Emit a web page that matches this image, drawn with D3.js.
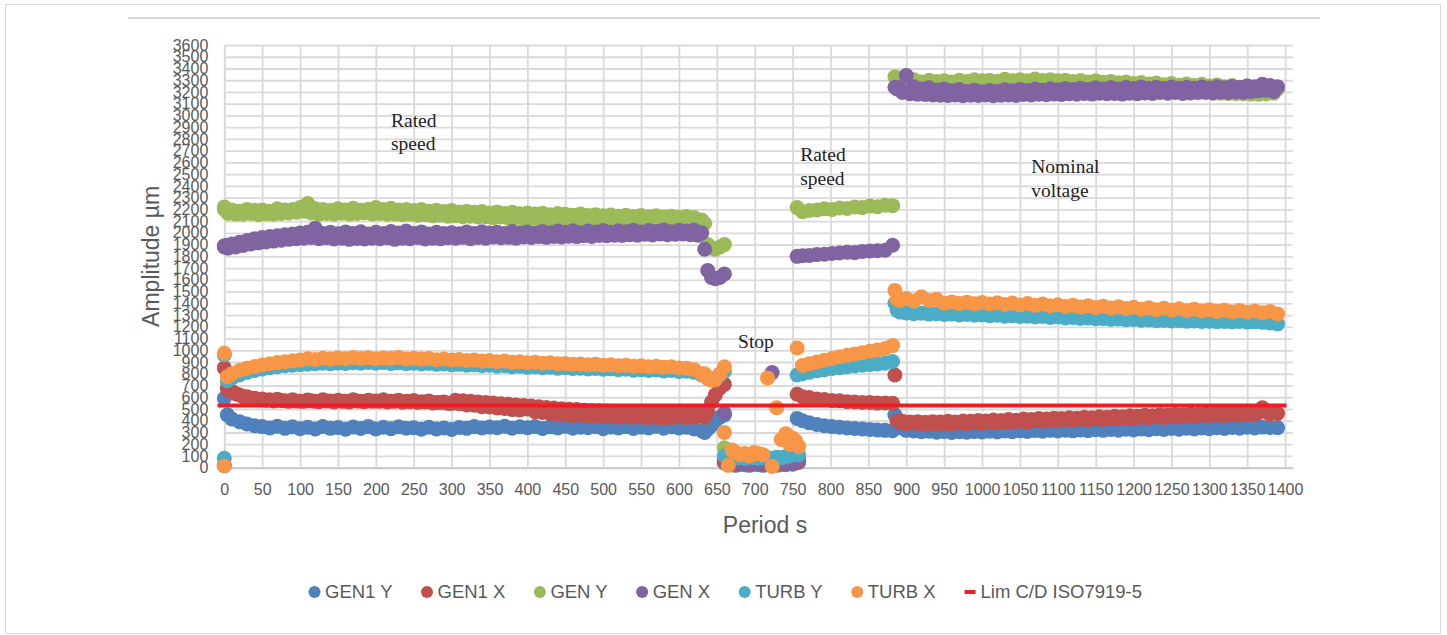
<!DOCTYPE html>
<html>
<head>
<meta charset="utf-8">
<script src="https://cdn.jsdelivr.net/npm/d3@7"></script>
<style>
  body { margin: 0; background: #fff; }
  svg { display: block; }
</style>
</head>
<body>
<div id="container"></div>
<script>
// ---- data ----
const seriesNames = ["GEN1 Y", "GEN1 X", "GEN Y", "GEN X", "TURB Y", "TURB X"];
const seriesColors = ["#4F81BD", "#C0504D", "#9BBB59", "#8064A2", "#4BACC6", "#F79646"];

// time stamps (s) of each phase
const tRun1 = [0, 0, 4, 10, 20, 30, 40, 50, 60, 70, 80, 90, 100, 110, 120, 130, 140, 150, 160, 170,
  180, 190, 200, 210, 220, 230, 240, 250, 260, 270, 280, 290, 300, 310, 320, 330, 340, 350, 360, 370,
  380, 390, 400, 410, 420, 430, 440, 450, 460, 470, 480, 490, 500, 510, 520, 530, 540, 550, 560, 570,
  580, 590, 600, 610, 620, 630];
const tCoast = [634, 638, 643, 648, 654, 660];
const tStop = [660, 665, 670, 675, 681, 687, 693, 699, 705, 711, 717, 723, 729, 735, 741, 746, 750, 754, 758];
const tRun2 = [756, 763, 772, 782, 792, 802, 812, 822, 832, 842, 852, 862, 872, 882];
const tNominal = [885, 888, 892, 900, 910, 920, 930, 940, 950, 960, 970, 980, 990, 1000, 1010, 1020,
  1030, 1040, 1050, 1060, 1070, 1080, 1090, 1100, 1110, 1120, 1130, 1140, 1150, 1160, 1170, 1180,
  1190, 1200, 1210, 1220, 1230, 1240, 1250, 1260, 1270, 1280, 1290, 1300, 1310, 1320, 1330, 1340,
  1350, 1360, 1370, 1380, 1390];
const period = [].concat(tRun1, tCoast, tStop, tRun2, tNominal);

// amplitudes (µm), same order as period
const gen1Y = [
  590, 20, 450,
  415, 392, 372, 358, 350, 338, 352, 335, 348, 332,
  345, 330, 350, 335, 342, 328, 346, 334, 350, 330,
  344, 332, 348, 336, 340, 328, 345, 330, 338, 326,
  342, 335, 350, 338, 346, 340, 352, 336, 348, 340,
  350, 334, 348, 338, 352, 336, 345, 340, 350, 332,
  346, 338, 350, 334, 346, 338, 352, 336, 348, 338,
  344, 330, 315,
  300, 330, 360, 400, 430, 450,
  40, 30, 25, 20, 30, 25, 20, 30, 25, 20, 30, 25, 20, 30, 25, 35, 30, 40, 45,
  420, 400, 382, 368, 358, 350, 345, 338, 334, 330, 326, 322, 318, 315,
  450, 380, 340, 318, 312, 306, 310, 302, 308, 300,
  306, 302, 308, 304, 310, 305, 312, 306, 314, 308,
  316, 310, 318, 312, 320, 314, 322, 316, 324, 318,
  326, 320, 328, 322, 330, 324, 332, 326, 334, 328,
  336, 330, 338, 332, 340, 334, 342, 336, 344, 338,
  346, 342, 340
];
const gen1X = [
  850, 20, 680,
  650, 620, 605, 592, 585, 578, 583, 570, 578, 566,
  576, 565, 578, 568, 575, 565, 578, 566, 574, 568,
  578, 566, 574, 565, 572, 562, 568, 555, 560, 548,
  545, 535, 532, 520, 518, 508, 505, 495, 492, 500,
  478, 470, 462, 455, 452, 445, 448, 440, 442, 435,
  438, 430, 434, 428, 432, 425, 430, 422, 428, 432,
  425, 430, 440,
  430, 480, 560, 620, 680, 710,
  60, 45, 40, 35, 40, 45, 35, 40, 45, 35, 40, 45, 40, 35, 45, 40, 50, 45, 55,
  625, 605, 598, 585, 580, 572, 570, 562, 560, 555, 556, 550, 552, 548,
  790, 400, 385, 372, 378, 370, 375, 368, 376, 372,
  380, 375, 384, 378, 388, 382, 392, 386, 396, 390,
  400, 395, 405, 400, 410, 404, 414, 408, 418, 412,
  422, 416, 426, 420, 430, 424, 434, 428, 438, 432,
  442, 436, 446, 440, 450, 444, 454, 448, 458, 452,
  510, 458, 462
];
const genY = [
  2200, 2220, 2175,
  2195, 2185, 2200, 2192, 2195, 2185, 2205, 2195, 2200, 2215,
  2250, 2205, 2200, 2190, 2205, 2195, 2210, 2192, 2202, 2215,
  2200, 2210, 2195, 2200, 2190, 2198, 2185, 2192, 2182, 2190,
  2178, 2185, 2175, 2182, 2170, 2178, 2165, 2175, 2162, 2170,
  2160, 2168, 2155, 2165, 2158, 2150, 2160, 2148, 2155, 2145,
  2152, 2142, 2150, 2140, 2148, 2138, 2145, 2135, 2142, 2132,
  2140, 2130, 2110,
  2080, 1900, 1870, 1860, 1880, 1900,
  170, 100, 70, 60, 55, 60, 55, 50, 60, 55, 60, 50, 55, 60, 55, 65, 60, 70, 80,
  2215, 2180, 2190, 2195, 2205, 2200, 2212, 2208, 2220, 2215, 2228, 2222, 2235, 2232,
  3330, 3315, 3300, 3290, 3305, 3285, 3300, 3290, 3295, 3285,
  3300, 3290, 3305, 3295, 3300, 3292, 3308, 3296, 3305, 3295,
  3310, 3298, 3305, 3295, 3300, 3290, 3298, 3285, 3295, 3282,
  3290, 3278, 3285, 3272, 3280, 3268, 3276, 3262, 3272, 3258,
  3268, 3255, 3265, 3250, 3260, 3245, 3255, 3240, 3250, 3235,
  3240, 3230, 3225
];
const genX = [
  1880, 1890, 1895,
  1905, 1920, 1935, 1950, 1960, 1968, 1975, 1985, 1990, 1998,
  2005, 2040, 1995, 2005, 1992, 2008, 1995, 2010, 1990, 2005,
  1995, 2012, 1998, 2015, 1995, 2008, 1990, 2005, 1995, 2002,
  1992, 2008, 1995, 2010, 1998, 2005, 1995, 2012, 2000, 2008,
  1998, 2012, 2002, 2015, 2005, 2018, 2000, 2015, 2008, 2020,
  2005, 2018, 2010, 2022, 2008, 2020, 2012, 2025, 2010, 2022,
  2015, 2025, 2000,
  1860, 1680, 1620, 1610, 1620, 1650,
  466, 60, 50, 45, 40, 50, 45, 40, 50, 45, 40, 810, 45, 50, 45, 55, 50, 60, 70,
  1800, 1805, 1808, 1815, 1818, 1825, 1828, 1835, 1832, 1842, 1845, 1848, 1852, 1895,
  3240, 3225, 3235, 3340, 3245, 3225, 3235, 3215, 3225, 3210,
  3220, 3205, 3215, 3202, 3212, 3205, 3218, 3210, 3222, 3212,
  3225, 3215, 3228, 3218, 3230, 3220, 3232, 3222, 3235, 3225,
  3238, 3228, 3240, 3230, 3242, 3232, 3240, 3230, 3242, 3232,
  3240, 3232, 3242, 3234, 3244, 3236, 3246, 3238, 3250, 3245,
  3265, 3255, 3245
];
const turbY = [
  960, 80, 740,
  765, 790, 812, 828, 840, 852, 860, 868, 872, 878,
  882, 885, 890, 886, 892, 888, 894, 890, 896, 890,
  895, 888, 893, 886, 890, 884, 888, 880, 884, 876,
  880, 872, 876, 868, 872, 864, 868, 860, 864, 856,
  860, 852, 856, 848, 852, 845, 848, 840, 845, 838,
  842, 835, 838, 830, 835, 828, 832, 824, 828, 820,
  822, 812, 790,
  790, 760, 750, 760, 790, 820,
  100, 90, 85, 80, 85, 80, 90, 85, 80, 90, 85, 80, 90, 85, 95, 100, 110, 120, 110,
  790, 800, 812, 825, 835, 845, 852, 860, 866, 872, 878, 884, 890, 905,
  1400, 1340, 1325, 1318, 1312, 1315, 1308, 1312, 1305, 1308,
  1300, 1305, 1298, 1302, 1295, 1298, 1290, 1294, 1288, 1290,
  1284, 1288, 1280, 1284, 1276, 1280, 1272, 1275, 1268, 1270,
  1264, 1266, 1260, 1262, 1256, 1258, 1252, 1254, 1250, 1252,
  1248, 1250, 1245, 1248, 1244, 1246, 1242, 1245, 1240, 1242,
  1238, 1232, 1225
];
const turbX = [
  975, 15, 775,
  800, 828, 848, 862, 875, 885, 895, 902, 910, 918,
  928, 922, 932, 925, 935, 928, 938, 930, 936, 928,
  935, 930, 938, 926, 932, 925, 930, 920, 926, 918,
  922, 914, 918, 908, 912, 902, 908, 898, 902, 894,
  898, 890, 894, 885, 888, 880, 884, 876, 880, 872,
  876, 868, 872, 864, 868, 860, 864, 856, 860, 850,
  848, 835, 800,
  800, 760, 745, 750, 800, 860,
  300, 20, 150, 130, 110, 120, 100, 130, 120, 110, 765, 10, 510, 240, 290, 200, 250, 230, 180,
  1020, 870, 885, 900, 915, 930, 945, 958, 968, 980, 992, 1002, 1015, 1040,
  1510, 1435, 1425, 1440, 1420, 1455, 1425, 1435, 1400, 1412,
  1398, 1410, 1396, 1408, 1394, 1405, 1390, 1402, 1386, 1398,
  1382, 1394, 1378, 1388, 1372, 1384, 1368, 1380, 1364, 1376,
  1360, 1370, 1355, 1366, 1350, 1362, 1346, 1358, 1342, 1354,
  1338, 1350, 1334, 1346, 1330, 1342, 1326, 1338, 1324, 1335,
  1320, 1330, 1310
];
const seriesValues = [gen1Y, gen1X, genY, genX, turbY, turbX];

// second reading row where the bands are wide (run 1 and nominal voltage)
const tMid = [5, 15, 25, 35, 45, 55, 65, 75, 85, 95, 105, 115, 125, 135, 145, 155, 165, 175, 185, 195,
  205, 215, 225, 235, 245, 255, 265, 275, 285, 295, 305, 315, 325, 335, 345, 355, 365, 375, 385, 395,
  405, 415, 425, 435, 445, 455, 465, 475, 485, 495, 505, 515, 525, 535, 545, 555, 565, 575, 585, 595,
  605, 615, 625,
  895, 905, 915, 925, 935, 945, 955, 965, 975, 985, 995, 1005, 1015, 1025, 1035, 1045, 1055, 1065,
  1075, 1085, 1095, 1105, 1115, 1125, 1135, 1145, 1155, 1165, 1175, 1185, 1195, 1205, 1215, 1225,
  1235, 1245, 1255, 1265, 1275, 1285, 1295, 1305, 1315, 1325, 1335, 1345, 1355, 1365, 1375, 1385];
const gen1XMid = [
  660, 630, 605, 590, 580, 575, 568, 572, 565, 568,
  565, 570, 562, 568, 560, 566, 560, 568, 562, 565,
  565, 560, 566, 558, 562, 555, 560, 552, 555, 548,
  575, 570, 565, 560, 555, 550, 545, 540, 535, 530,
  525, 520, 512, 508, 502, 498, 495, 490, 488, 485,
  482, 480, 478, 476, 475, 472, 474, 470, 472, 470,
  468, 472, 475,
  395, 390, 392, 388, 392, 390, 395, 390, 398, 395,
  402, 398, 406, 402, 410, 405, 414, 410, 418, 414,
  422, 418, 426, 422, 430, 426, 434, 430, 438, 434,
  442, 438, 446, 442, 450, 446, 454, 450, 458, 454,
  462, 458, 466, 462, 470, 466, 474, 470, 478, 480
];
const genYMid = [
  2165, 2160, 2158, 2165, 2155, 2162, 2158, 2165, 2170, 2175,
  2185, 2170, 2160, 2165, 2158, 2168, 2160, 2165, 2170, 2162,
  2165, 2158, 2162, 2155, 2160, 2150, 2155, 2145, 2150, 2142,
  2145, 2138, 2142, 2135, 2138, 2130, 2135, 2125, 2130, 2122,
  2125, 2118, 2122, 2115, 2118, 2110, 2115, 2108, 2112, 2105,
  2108, 2100, 2105, 2098, 2102, 2095, 2100, 2092, 2098, 2090,
  2095, 2088, 2080,
  3265, 3255, 3250, 3258, 3248, 3255, 3250, 3258, 3252, 3260,
  3255, 3262, 3258, 3265, 3260, 3268, 3262, 3265, 3260, 3262,
  3258, 3255, 3250, 3248, 3245, 3240, 3238, 3235, 3230, 3228,
  3225, 3222, 3218, 3215, 3212, 3210, 3208, 3205, 3200, 3198,
  3195, 3192, 3190, 3188, 3185, 3185, 3182, 3180, 3185, 3190
];
const genXMid = [
  1870, 1880, 1892, 1905, 1915, 1922, 1930, 1938, 1945, 1950,
  1955, 1960, 1950, 1958, 1948, 1955, 1945, 1952, 1948, 1955,
  1950, 1958, 1945, 1955, 1950, 1960, 1948, 1955, 1950, 1958,
  1955, 1962, 1950, 1960, 1955, 1965, 1958, 1962, 1955, 1965,
  1960, 1968, 1962, 1970, 1965, 1972, 1968, 1975, 1970, 1978,
  1975, 1980, 1978, 1985, 1980, 1988, 1982, 1990, 1985, 1988,
  1990, 1985, 1980,
  3195, 3185, 3180, 3178, 3175, 3172, 3170, 3175, 3168, 3172,
  3170, 3175, 3168, 3172, 3175, 3170, 3178, 3175, 3180, 3176,
  3182, 3178, 3185, 3180, 3188, 3182, 3190, 3185, 3188, 3182,
  3190, 3185, 3192, 3188, 3195, 3190, 3195, 3188, 3192, 3195,
  3198, 3192, 3200, 3195, 3202, 3198, 3205, 3210, 3215, 3205
];
const midValues = [null, gen1XMid, genYMid, genXMid, null, null];

// limit line C/D ISO7919-5
const limName = "Lim C/D ISO7919-5";
const limT = [-9, 1402];
const limV = [530, 530];

const xTicks = [0, 50, 100, 150, 200, 250, 300, 350, 400, 450, 500, 550, 600, 650, 700, 750, 800,
  850, 900, 950, 1000, 1050, 1100, 1150, 1200, 1250, 1300, 1350, 1400];
const yTicks = [0, 100, 200, 300, 400, 500, 600, 700, 800, 900, 1000, 1100, 1200, 1300, 1400, 1500,
  1600, 1700, 1800, 1900, 2000, 2100, 2200, 2300, 2400, 2500, 2600, 2700, 2800, 2900, 3000, 3100,
  3200, 3300, 3400, 3500, 3600];

const notes = [
  { lines: ["Rated", "speed"], t: 220, v: 2902 },
  { lines: ["Stop"], t: 678, v: 1019 },
  { lines: ["Rated", "speed"], t: 760, v: 2612 },
  { lines: ["Nominal", "voltage"], t: 1065, v: 2508 }
];

// ---- layout ----
const width = 1447, height = 635;
const sansFont = "'Liberation Sans', Arial, sans-serif";
const grey = "#595959";

const svg = d3.select("#container")
  .append("svg")
  .attr("width", width)
  .attr("height", height);

// chart frame
svg.append("rect")
  .attr("x", 5.5).attr("y", 4.5)
  .attr("width", 1435).attr("height", 629)
  .attr("fill", "#fff")
  .attr("stroke", "#d9d9d9");

// empty title line
svg.append("line")
  .attr("x1", 128).attr("x2", 1320)
  .attr("y1", 18).attr("y2", 18)
  .attr("stroke", "#d9d9d9")
  .attr("stroke-width", 2);

const x = d3.scaleLinear().domain([0, 1410]).range([224.3, 1292.7]);
const y = d3.scaleLinear().domain([0, 3600]).range([467.7, 45]);

// x axis + vertical grid
const xAxis = svg.append("g")
  .attr("transform", `translate(0,${y(0)})`)
  .call(d3.axisBottom(x)
    .tickValues(xTicks)
    .tickFormat(d3.format("d"))
    .tickSizeInner(-(y(0) - y(3600)))
    .tickSizeOuter(0)
    .tickPadding(16));

// y axis + horizontal grid
const yAxis = svg.append("g")
  .attr("transform", `translate(${x(0)},0)`)
  .call(d3.axisLeft(y)
    .tickValues(yTicks)
    .tickFormat(d3.format("d"))
    .tickSizeInner(-(x(1410) - x(0)))
    .tickSizeOuter(0)
    .tickPadding(16));

[xAxis, yAxis].forEach(g => {
  g.selectAll(".tick line").attr("stroke", "#d9d9d9").attr("stroke-width", 1.8);
  g.selectAll(".tick text")
    .attr("fill", grey)
    .style("font-family", sansFont)
    .style("font-size", "16px");
});
yAxis.select(".domain").attr("stroke", "#d9d9d9").attr("stroke-width", 1.8);
xAxis.select(".domain").attr("stroke", "#c8c8c8").attr("stroke-width", 2);
yAxis.raise();
xAxis.raise();

// axis titles
svg.append("text")
  .attr("transform", `translate(159,${(y(0) + y(3600)) / 2}) rotate(-90)`)
  .attr("text-anchor", "middle")
  .attr("fill", grey)
  .style("font-family", sansFont)
  .style("font-size", "23px")
  .text("Amplitude µm");

svg.append("text")
  .attr("x", 765).attr("y", 533)
  .attr("text-anchor", "middle")
  .attr("fill", grey)
  .style("font-family", sansFont)
  .style("font-size", "23px")
  .text("Period s");

// scatter markers, series drawn in order
const plot = svg.append("g");
seriesNames.forEach((name, si) => {
  let pts = period.map((t, i) => ({ t: t, v: seriesValues[si][i] }));
  if (midValues[si]) {
    pts = pts.concat(tMid.map((t, i) => ({ t: t, v: midValues[si][i] })));
  }
  pts = pts.filter(d => d.v !== undefined);
  plot.append("g")
    .attr("fill", seriesColors[si])
    .selectAll("circle")
    .data(pts)
    .join("circle")
    .attr("cx", d => x(d.t))
    .attr("cy", d => y(d.v))
    .attr("r", 7.5);
});

// limit line
const limLine = d3.line()
  .x(d => x(d[0]))
  .y(d => y(d[1]));
plot.append("path")
  .datum(d3.zip(limT, limV))
  .attr("d", limLine)
  .attr("fill", "none")
  .attr("stroke", "#EE1D23")
  .attr("stroke-width", 4);

// annotations
notes.forEach(n => {
  const txt = svg.append("text")
    .attr("x", x(n.t))
    .attr("y", y(n.v))
    .attr("fill", "#222")
    .style("font-family", "'Liberation Serif', 'Times New Roman', serif")
    .style("font-size", "19.5px");
  n.lines.forEach((l, i) => {
    txt.append("tspan")
      .attr("x", x(n.t))
      .attr("dy", i === 0 ? 0 : 23.5)
      .text(l);
  });
});

// legend
const legend = svg.append("g").attr("transform", "translate(309,592)");
const legendItems = seriesNames.map((n, i) => ({ name: n, color: seriesColors[i], line: false }))
  .concat([{ name: limName, color: "#EE1D23", line: true }]);
let lx = 0;
legendItems.forEach(item => {
  const g = legend.append("g").attr("transform", `translate(${lx},0)`);
  if (item.line) {
    g.append("line")
      .attr("x1", 0).attr("x2", 11)
      .attr("stroke", item.color)
      .attr("stroke-width", 4);
  } else {
    g.append("circle").attr("cx", 5.5).attr("r", 6).attr("fill", item.color);
  }
  const t = g.append("text")
    .attr("x", 16)
    .attr("dy", "0.35em")
    .attr("fill", grey)
    .style("font-family", sansFont)
    .style("font-size", "18.5px")
    .text(item.name);
  lx += 16 + t.node().getComputedTextLength() + 29;
});
</script>
</body>
</html>
